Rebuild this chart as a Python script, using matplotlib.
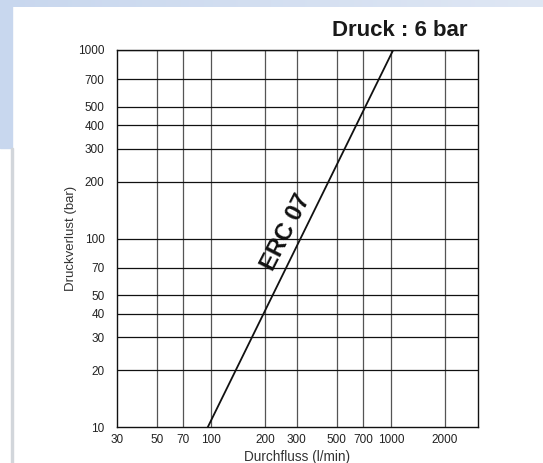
import matplotlib
matplotlib.use("Agg")
import matplotlib.pyplot as plt
from matplotlib.patches import Rectangle
from matplotlib.colors import LinearSegmentedColormap
import numpy as np

plt.rcParams['font.family'] = ['Liberation Sans', 'DejaVu Sans']

# ERC 07 curve end points (flow l/min, loss bar)
flow = [96, 1030]
loss = [10, 1000]

xticks = [30, 50, 70, 100, 200, 300, 500, 700, 1000, 2000]
yticks = [10, 20, 30, 40, 50, 70, 100, 200, 300, 400, 500, 700, 1000]

W, H = 543, 463
fig = plt.figure(figsize=(W / 100, H / 100), dpi=100)

# page decoration: blue band at the top and left, grey strip below
bg = fig.add_axes([0, 1 - 7 / H, 1, 7 / H])
grad = np.linspace(0, 1, 256)[None, :]
cmap = LinearSegmentedColormap.from_list('band', ['#c8d7ee', '#dfe7f4'])
bg.imshow(grad, aspect='auto', cmap=cmap, extent=[0, 1, 0, 1])
bg.axis('off')
fig.patches.append(Rectangle((0, 1 - 148 / H), 11.5 / W, 148 / H,
                             transform=fig.transFigure, color='#c8d7ee', zorder=0))
fig.patches.append(Rectangle((10.5 / W, 0), 2.5 / W, 1 - 148 / H,
                             transform=fig.transFigure, color='#d2d6db', zorder=0))

ax = fig.add_axes([117 / W, 36 / H, 361 / W, 377 / H])
ax.set_xscale('log')
ax.set_yscale('log')
ax.set_xlim(30, 3050)
ax.set_ylim(10, 1000)

ax.set_xticks(xticks)
ax.set_xticklabels([str(v) for v in xticks])
ax.set_yticks(yticks)
ax.set_yticklabels([str(v) for v in yticks])
ax.minorticks_off()
ax.tick_params(length=0, labelsize=8.5, colors='#222222', pad=5)
ax.tick_params(axis='y', pad=9)

for v in xticks[1:]:
    ax.axvline(v, color='#555555', lw=0.9, zorder=1)
for v in yticks[1:]:
    ax.axhline(v, color='#111111', lw=0.9, zorder=1)
for s in ax.spines.values():
    s.set_color('#111111')
    s.set_linewidth(1.0)

ax.plot(flow, loss, color='#111111', lw=1.3, zorder=3, clip_on=True)
ax.text(262, 108, 'ERC 07', rotation=63, fontsize=17, fontweight='bold',
        ha='center', va='center', color='#111111', rotation_mode='anchor')

ax.set_xlabel('Durchfluss (l/min)', fontsize=9.8, color='#333333', labelpad=3)
ax.set_ylabel('Druckverlust (bar)', fontsize=9.5, color='#333333', labelpad=1)

fig.text(467 / W, 1 - 31 / H, 'Druck : 6 bar', ha='right', va='center',
         fontsize=16, fontweight='bold', color='#1a1a1a')

fig.savefig('out.png', dpi=100)
